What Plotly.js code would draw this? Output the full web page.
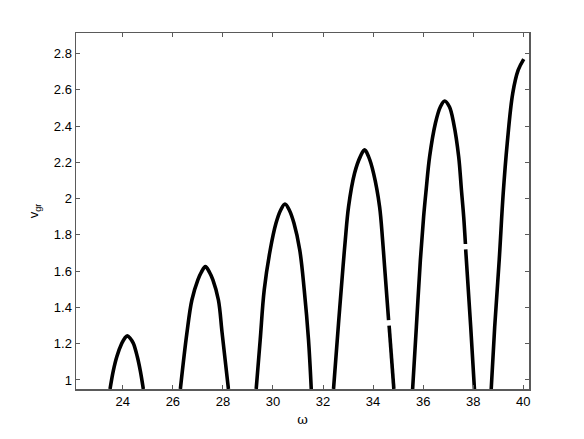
<!DOCTYPE html>
<html>
<head>
<meta charset="utf-8">
<script src="https://cdn.plot.ly/plotly-3.0.1.min.js"></script>
<style>html,body{margin:0;padding:0;background:#fff;}#chart{width:584px;height:439px;}</style>
</head>
<body>
<div id="chart"></div>
<script>
// Branch 1
const omega1 = [23.49, 23.62, 23.76, 23.96, 24.08, 24.18, 24.29, 24.42, 24.58, 24.70, 24.82];
const vgr1   = [0.95, 1.05, 1.128, 1.202, 1.231, 1.243, 1.231, 1.202, 1.128, 1.05, 0.95];
// Branch 2
const omega2 = [26.30, 26.56, 26.76, 27.00, 27.14, 27.30, 27.46, 27.60, 27.82, 27.97, 28.22];
const vgr2   = [0.95, 1.257, 1.441, 1.552, 1.595, 1.625, 1.595, 1.552, 1.441, 1.257, 0.95];
// Branch 3
const omega3 = [29.33, 29.49, 29.65, 29.89, 30.12, 30.30, 30.48, 30.66, 30.84, 31.07, 31.25, 31.42, 31.53];
const vgr3   = [0.95, 1.221, 1.496, 1.717, 1.864, 1.935, 1.971, 1.935, 1.864, 1.717, 1.496, 1.221, 0.95];
// Branch 4 (small gap on the falling side)
const omega4 = [32.42, 32.62, 32.80, 32.89, 33.02, 33.26, 33.49, 33.66, 33.82, 34.02, 34.26, 34.38, 34.46, 34.62, null, 34.64, 34.83];
const vgr4   = [0.95, 1.313, 1.625, 1.772, 1.956, 2.14, 2.232, 2.269, 2.232, 2.14, 1.956, 1.772, 1.625, 1.33, null, 1.30, 0.95];
// Branch 5 (small gap on the falling side)
const omega5 = [35.58, 35.73, 35.89, 36.02, 36.12, 36.26, 36.49, 36.69, 36.86, 37.05, 37.22, 37.42, 37.53, 37.62, 37.69, null, 37.70, 37.90, 38.05];
const vgr5   = [0.95, 1.294, 1.662, 1.901, 2.048, 2.232, 2.416, 2.507, 2.539, 2.507, 2.416, 2.232, 2.048, 1.901, 1.75, null, 1.72, 1.294, 0.95];
// Branch 6
const omega6 = [38.72, 38.86, 39.04, 39.20, 39.36, 39.58, 39.80, 40.02];
const vgr6   = [0.95, 1.294, 1.662, 2.03, 2.306, 2.581, 2.71, 2.77];

const xTicks = [24, 26, 28, 30, 32, 34, 36, 38, 40];
const xTickText = ['24', '26', '28', '30', '32', '34', '36', '38', '40'];
const yTicks = [1, 1.2, 1.4, 1.6, 1.8, 2, 2.2, 2.4, 2.6, 2.8];
const yTickText = ['1', '1.2', '1.4', '1.6', '1.8', '2', '2.2', '2.4', '2.6', '2.8'];

const branches = [[omega1, vgr1], [omega2, vgr2], [omega3, vgr3], [omega4, vgr4], [omega5, vgr5], [omega6, vgr6]];
const traces = branches.map(b => ({
  x: b[0], y: b[1], type: 'scatter', mode: 'lines', connectgaps: false,
  line: {color: '#000', width: 3.6, shape: 'spline', smoothing: 1},
  showlegend: false, hoverinfo: 'skip'
}));

const axCol = '#5a5a5a';
const layout = {
  width: 584, height: 439,
  margin: {l: 76, r: 55, t: 33, b: 50},
  paper_bgcolor: '#fff', plot_bgcolor: '#fff',
  font: {family: 'Liberation Sans, Arial, sans-serif', size: 12, color: '#000'},
  showlegend: false,
  xaxis: {
    range: [22.13, 40.23], tickvals: xTicks, ticktext: xTickText,
    showgrid: false, zeroline: false, showline: true, linecolor: axCol, linewidth: 1.5,
    mirror: 'ticks', ticks: 'inside', ticklen: 4, tickcolor: axCol, tickwidth: 1,
    tickfont: {size: 13}, title: {text: 'ω', font: {size: 13, family: 'DejaVu Serif, serif'}, standoff: 7}
  },
  yaxis: {
    range: [0.95, 2.914], tickvals: yTicks, ticktext: yTickText,
    showgrid: false, zeroline: false, showline: true, linecolor: axCol, linewidth: 1.5,
    mirror: 'ticks', ticks: 'inside', ticklen: 4, tickcolor: axCol, tickwidth: 1,
    tickfont: {size: 13}, title: {text: 'v<sub>gr</sub>', font: {size: 13}, standoff: 12}
  }
};

Plotly.newPlot('chart', traces, layout, {staticPlot: true, displayModeBar: false});
</script>
</body>
</html>
